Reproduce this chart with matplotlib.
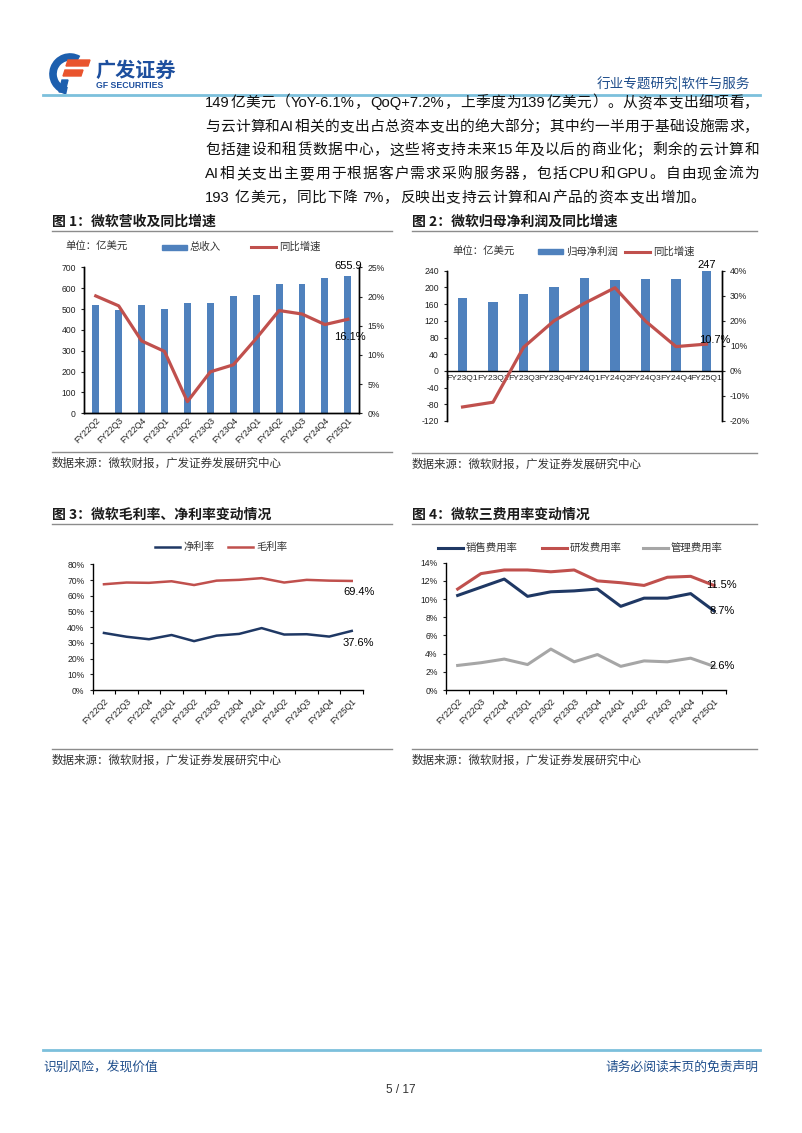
import numpy as np
import matplotlib
matplotlib.use('Agg')
import matplotlib.pyplot as plt
from matplotlib.lines import Line2D
from matplotlib.patches import Rectangle, Arc, Polygon

# ---- data ----
quarters = ['FY22Q2', 'FY22Q3', 'FY22Q4', 'FY23Q1', 'FY23Q2', 'FY23Q3',
            'FY23Q4', 'FY24Q1', 'FY24Q2', 'FY24Q3', 'FY24Q4', 'FY25Q1']
revenue = [517.3, 493.6, 518.7, 501.2, 527.5, 528.6, 561.9, 565.2, 620.2, 618.6, 647.3, 655.9]
revenue_yoy = [20.1, 18.4, 12.4, 10.6, 2.0, 7.1, 8.3, 12.8, 17.6, 17.0, 15.2, 16.1]

quarters_ni = ['FY23Q1', 'FY23Q2', 'FY23Q3', 'FY23Q4', 'FY24Q1', 'FY24Q2',
               'FY24Q3', 'FY24Q4', 'FY25Q1']
net_income = [175.6, 164.3, 183.0, 200.8, 222.9, 218.7, 219.4, 220.4, 246.7]
net_income_yoy = [-14.4, -12.5, 9.4, 20.0, 27.0, 33.2, 19.9, 9.7, 10.7]

gross_margin = [67.3, 68.4, 68.2, 69.2, 66.8, 69.6, 70.1, 71.2, 68.4, 70.1, 69.6, 69.4]
net_margin = [36.3, 33.9, 32.3, 35.0, 31.1, 34.6, 35.7, 39.4, 35.3, 35.5, 34.0, 37.6]

sales_ratio = [10.4, 11.3, 12.2, 10.3, 10.8, 10.9, 11.1, 9.2, 10.1, 10.1, 10.6, 8.7]
rd_ratio = [11.1, 12.8, 13.2, 13.2, 13.0, 13.2, 12.0, 11.8, 11.5, 12.4, 12.5, 11.5]
admin_ratio = [2.7, 3.0, 3.4, 2.8, 4.5, 3.1, 3.9, 2.6, 3.2, 3.1, 3.5, 2.6]

body_lines = [
    '149亿美元（YoY-6.1%，QoQ+7.2%，上季度为139亿美元）。从资本支出细项看，',
    '与云计算和AI相关的支出占总资本支出的绝大部分；其中约一半用于基础设施需求，',
    '包括建设和租赁数据中心，这些将支持未来15年及以后的商业化；剩余的云计算和',
    'AI相关支出主要用于根据客户需求采购服务器，包括CPU和GPU。自由现金流为',
    '193 亿美元，同比下降 7%，反映出支持云计算和AI产品的资本支出增加。',
]

# ---- style ----
W, H = 802, 1133
FAM = ['Liberation Sans', 'Noto Sans CJK SC']
CJK = ['Noto Sans CJK SC', 'DejaVu Sans']
BLUE_BAR = '#4f81bd'
RED = '#c0504d'
NAVY = '#1f3864'
GRAY_LINE = '#a6a6a6'
HEAD_BLUE = '#1f4e8c'
RULE_BLUE = '#7cc0dc'

plt.rcParams['font.family'] = FAM
plt.rcParams['axes.linewidth'] = 1.0
plt.rcParams['axes.unicode_minus'] = False

fig = plt.figure(figsize=(W / 100, H / 100), dpi=100)


def fx(x):
    return x / W


def fy(y):
    return 1 - y / H


def axes_px(l, t, r, b):
    return fig.add_axes([l / W, 1 - b / H, (r - l) / W, (b - t) / H])


def hline(x0, x1, y, color, lw):
    fig.add_artist(Line2D([fx(x0), fx(x1)], [fy(y), fy(y)], color=color, lw=lw,
                          transform=fig.transFigure))


def ftext(x, y, s, size, **kw):
    kw.setdefault('va', 'center')
    kw.setdefault('family', FAM)
    return fig.text(fx(x), fy(y), s, fontsize=size, **kw)


# ---- header ----
logo = axes_px(48, 52, 94, 94)
logo.set_xlim(0, 46)
logo.set_ylim(42, 0)
logo.axis('off')
logo.add_patch(Arc((22, 22), 34, 34, theta1=100, theta2=300, color='#1d5fae', lw=5.5))
logo.add_patch(Polygon([[20, 8], [42, 8], [40, 14], [18, 14]], color='#e9542d'))
logo.add_patch(Polygon([[17, 18], [35, 18], [33, 24], [15, 24]], color='#e9542d'))
logo.add_patch(Polygon([[14, 28], [20, 28], [17, 40], [11, 40]], color='#1d5fae'))
ftext(95, 70, '广发证券', 14.5, color='#1d4f9e', weight='bold', family=CJK)
ftext(96, 86, 'GF SECURITIES', 6.3, color='#1d4f9e', weight='bold')
ftext(750, 84, '行业专题研究|软件与服务', 9.8, color=HEAD_BLUE, ha='right', family=CJK)
hline(43, 760, 95, RULE_BLUE, 2)

# ---- body text, justified ----
renderer = fig.canvas.get_renderer()
BODY_SIZE = 10.6
space_w = BODY_SIZE * 100 / 72 * 0.278


def text_width(s):
    t = fig.text(0, 0, s, fontsize=BODY_SIZE, family=FAM)
    w = t.get_window_extent(renderer).width
    t.remove()
    return w


def tokens(line):
    out = []
    for ch in line:
        if ch.isascii() and ch != ' ' and out and out[-1].isascii() and out[-1][-1] != ' ':
            out[-1] += ch
        else:
            out.append(ch)
    return out


for i, line in enumerate(body_lines):
    y = 103 + i * 23.7
    x0, x1 = 205, 759
    toks = tokens(line)
    widths = [space_w if t == ' ' else text_width(t) for t in toks]
    last = i == len(body_lines) - 1
    extra = 0.6 if last else (x1 - x0 - sum(widths)) / (len(toks) - 1)
    x = x0
    for t, w in zip(toks, widths):
        if t != ' ':
            ftext(x, y, t, BODY_SIZE, color='#111111')
        x += w + extra


# ---- helpers for charts ----
def chart_frame(x0, x1, title, title_y, src_y):
    ftext(x0, title_y, title, 10, weight='bold', color='#1a1a1a', family=CJK)
    hline(x0, x1, title_y + 9, '#8c8c8c', 1)
    hline(x0, x1, src_y, '#8c8c8c', 1)
    ftext(x0, src_y + 11, '数据来源：微软财报，广发证券发展研究中心', 8.3, color='#333333', family=CJK)


def legend_line(x0, y, label, color, lw=2.2):
    fig.add_artist(Line2D([fx(x0), fx(x0 + 25)], [fy(y), fy(y)], color=color, lw=lw,
                          transform=fig.transFigure))
    ftext(x0 + 28, y, label, 7.5, color='#333333', family=CJK)


def legend_bar(x0, y, label, color):
    fig.add_artist(Rectangle((fx(x0), fy(y + 2.5)), 25 / W, 5 / H, color=color,
                             transform=fig.transFigure))
    ftext(x0 + 28, y, label, 7.5, color='#333333', family=CJK)


def style_axis(ax):
    ax.tick_params(axis='both', labelsize=6.2, colors='#222222', width=0.8, length=2.5)
    ax.spines['top'].set_visible(False)
    for lab in ax.get_xticklabels() + ax.get_yticklabels():
        lab.set_family('Liberation Sans')


def rotated_labels(ax, labels):
    ax.set_xticks(np.arange(len(labels)))
    ax.set_xticklabels(labels, rotation=45, ha='right', va='top', rotation_mode='anchor',
                       fontsize=6.2, family='Liberation Sans')


pct = matplotlib.ticker.FuncFormatter(lambda v, p: f'{v:.0f}%')

# ---- chart 1 ----
chart_frame(52, 392, '图 1：微软营收及同比增速', 222, 452)
ftext(65, 247, '单位：亿美元', 7.5, color='#333333', family=CJK)
legend_bar(162, 247, '总收入', BLUE_BAR)
legend_line(251, 247, '同比增速', RED)

x = np.arange(len(quarters))
ax1 = axes_px(84.3, 267.3, 359.3, 413.3)
ax1.bar(x, revenue, width=0.3, color=BLUE_BAR)
ax1.set_xlim(-0.5, len(quarters) - 0.5)
ax1.set_ylim(0, 700)
ax1.set_yticks(np.arange(0, 701, 100))
ax1r = ax1.twinx()
ax1r.plot(x, revenue_yoy, color=RED, lw=2.3)
ax1r.set_ylim(0, 25)
ax1r.set_yticks(np.arange(0, 26, 5))
ax1r.yaxis.set_major_formatter(pct)
for a in (ax1, ax1r):
    style_axis(a)
ax1.tick_params(axis='x', length=0, pad=2)
rotated_labels(ax1, quarters)
ax1.annotate(f'{revenue[-1]:.1f}', xy=(x[-1], revenue[-1]), xytext=(0, 4),
             textcoords='offset points', ha='center', va='bottom', fontsize=8,
             annotation_clip=False)
ax1r.annotate(f'{revenue_yoy[-1]:.1f}%', xy=(x[-1], revenue_yoy[-1]), xytext=(1.4, -12.7),
              textcoords='offset points', ha='center', va='center', fontsize=8,
              annotation_clip=False)

# ---- chart 2 ----
chart_frame(412, 757, '图 2：微软归母净利润及同比增速', 222, 453)
ftext(452, 252, '单位：亿美元', 7.5, color='#333333', family=CJK)
legend_bar(538, 252, '归母净利润', BLUE_BAR)
legend_line(625, 252, '同比增速', RED)

x2 = np.arange(len(quarters_ni))
ax2 = axes_px(447.3, 270.7, 721.7, 421)
ax2.bar(x2, net_income, width=0.3, color=BLUE_BAR)
ax2.set_xlim(-0.5, len(quarters_ni) - 0.5)
ax2.set_ylim(-120, 240)
ax2.set_yticks(np.arange(-120, 241, 40))
ax2.spines['bottom'].set_position(('data', 0))
ax2r = ax2.twinx()
ax2r.plot(x2, net_income_yoy, color=RED, lw=2.3)
ax2r.set_ylim(-20, 40)
ax2r.set_yticks(np.arange(-20, 41, 10))
ax2r.yaxis.set_major_formatter(pct)
ax2r.spines['bottom'].set_visible(False)
for a in (ax2, ax2r):
    style_axis(a)
ax2.set_xticks(x2)
ax2.set_xticklabels(quarters_ni, fontsize=6.1, family='Liberation Sans')
ax2.tick_params(axis='x', length=0, pad=3)
ax2.annotate(f'{net_income[-1]:.0f}', xy=(x2[-1], 240), xytext=(0.3, 0.5),
             textcoords='offset points', ha='center', va='bottom', fontsize=8,
             annotation_clip=False)
ax2r.annotate(f'{net_income_yoy[-1]:.1f}%', xy=(x2[-1], net_income_yoy[-1]), xytext=(6, 2.8),
              textcoords='offset points', ha='center', va='center', fontsize=8,
              annotation_clip=False)

# ---- chart 3 ----
chart_frame(52, 392, '图 3：微软毛利率、净利率变动情况', 515, 749)
legend_line(155, 547, '净利率', NAVY, lw=1.8)
legend_line(228, 547, '毛利率', RED, lw=1.8)

ax3 = axes_px(92.7, 564.3, 363, 690)
ax3.plot(x, net_margin, color=NAVY, lw=1.8)
ax3.plot(x, gross_margin, color=RED, lw=1.8)
ax3.set_xlim(-0.5, len(quarters) - 0.5)
ax3.set_ylim(0, 80)
ax3.set_yticks(np.arange(0, 81, 10))
ax3.yaxis.set_major_formatter(pct)
ax3.spines['right'].set_visible(False)
style_axis(ax3)
rotated_labels(ax3, quarters)
ax3.set_xticks(np.arange(-0.5, len(quarters)), minor=True)
ax3.tick_params(axis='x', which='major', length=0, pad=5)
ax3.tick_params(axis='x', which='minor', length=3, width=0.8)
ax3.annotate(f'{gross_margin[-1]:.1f}%', xy=(x[-1], gross_margin[-1]), xytext=(5, -7.8),
             textcoords='offset points', ha='center', va='center', fontsize=8)
ax3.annotate(f'{net_margin[-1]:.1f}%', xy=(x[-1], net_margin[-1]), xytext=(5, -8.5),
             textcoords='offset points', ha='center', va='center', fontsize=8)

# ---- chart 4 ----
chart_frame(412, 757, '图 4：微软三费用率变动情况', 515, 749)
legend_line(438, 548, '销售费用率', NAVY)
legend_line(542, 548, '研发费用率', RED)
legend_line(643, 548, '管理费用率', GRAY_LINE)

ax4 = axes_px(446, 562.7, 725.6, 690)
ax4.plot(x, sales_ratio, color=NAVY, lw=2.2)
ax4.plot(x, rd_ratio, color=RED, lw=2.2)
ax4.plot(x, admin_ratio, color=GRAY_LINE, lw=2.2)
ax4.set_xlim(-0.5, len(quarters) - 0.5)
ax4.set_ylim(0, 14)
ax4.set_yticks(np.arange(0, 15, 2))
ax4.yaxis.set_major_formatter(pct)
ax4.spines['right'].set_visible(False)
style_axis(ax4)
rotated_labels(ax4, quarters)
ax4.set_xticks(np.arange(-0.5, len(quarters)), minor=True)
ax4.tick_params(axis='x', which='major', length=0, pad=5)
ax4.tick_params(axis='x', which='minor', length=3, width=0.8)
for series, dx in ((rd_ratio, -5.8), (sales_ratio, -2.9), (admin_ratio, -2.9)):
    ax4.annotate(f'{series[-1]:.1f}%', xy=(x[-1], series[-1]), xytext=(dx, 0),
                 textcoords='offset points', ha='left', va='center', fontsize=8,
                 annotation_clip=False)

# ---- footer ----
hline(43, 760, 1050, RULE_BLUE, 2)
ftext(43, 1067, '识别风险，发现价值', 9.2, color=HEAD_BLUE, family=CJK)
ftext(758, 1067, '请务必阅读末页的免责声明', 9.2, color=HEAD_BLUE, ha='right', family=CJK)
ftext(401, 1090, '5 / 17', 8.5, color='#333333', ha='center')

fig.savefig('out.png', dpi=100)
